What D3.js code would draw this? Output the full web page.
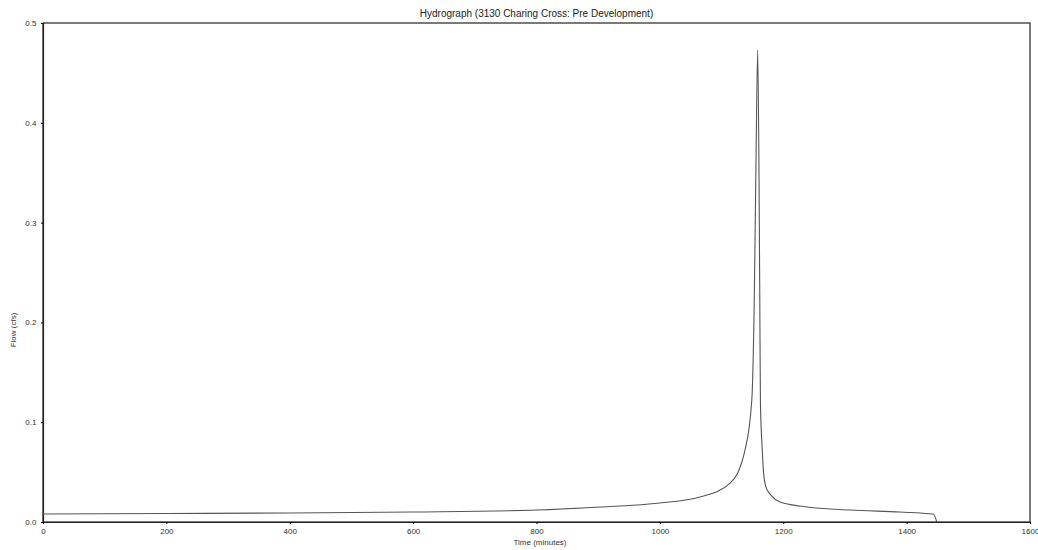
<!DOCTYPE html>
<html>
<head>
<meta charset="utf-8">
<script src="https://cdn.jsdelivr.net/npm/d3@7"></script>
<style>
  html, body { margin: 0; padding: 0; background: #fff; }
  svg { display: block; font-family: "Liberation Sans", Arial, sans-serif; }
</style>
</head>
<body>
<svg id="chart" width="1038" height="550"></svg>
<script>
// Data
const timeMinutes = [0, 200, 400, 600, 800, 903, 1000, 1065, 1114, 1138, 1149, 1153, 1156, 1158.6, 1161, 1162, 1163, 1166, 1168, 1172, 1180, 1195, 1227, 1308, 1389, 1443, 1449];
const flowCfs     = [0.008, 0.0085, 0.009, 0.010, 0.012, 0.015, 0.019, 0.025, 0.039, 0.072, 0.122, 0.222, 0.37, 0.473, 0.32, 0.22, 0.12, 0.072, 0.05, 0.035, 0.027, 0.020, 0.016, 0.012, 0.010, 0.008, 0.0];
const xTicks = [0, 200, 400, 600, 800, 1000, 1200, 1400, 1600];
const yTicks = [0.0, 0.1, 0.2, 0.3, 0.4, 0.5];
const titleText = "Hydrograph (3130 Charing Cross: Pre Development)";
const xLabel = "Time (minutes)";
const yLabel = "Flow (cfs)";

const svg = d3.select("#chart");
const m = { left: 43, right: 1030, top: 23, bottom: 522 };

const x = d3.scaleLinear().domain([0, 1600]).range([m.left, m.right]);
const y = d3.scaleLinear().domain([0, 0.5]).range([m.bottom, m.top]);

// Plot frame
svg.append("rect")
  .attr("x", m.left).attr("y", m.top)
  .attr("width", m.right - m.left).attr("height", m.bottom - m.top)
  .attr("fill", "#fff").attr("stroke", "#222").attr("stroke-width", 1.2);

// Axes
const xAxis = d3.axisBottom(x).tickValues(xTicks).tickSize(2).tickFormat(d3.format("d"));
const gx = svg.append("g").attr("transform", `translate(0,${m.bottom})`).call(xAxis);
gx.select(".domain").attr("stroke", "#222").attr("stroke-width", 1.2);
gx.selectAll("text").attr("font-size", 8).attr("fill", "#333").attr("dy", "0.9em");

const yAxis = d3.axisLeft(y).tickValues(yTicks).tickSize(2).tickFormat(d3.format(".1f"));
const gy = svg.append("g").attr("transform", `translate(${m.left},0)`).call(yAxis);
gy.select(".domain").attr("stroke", "#222").attr("stroke-width", 1.2);
gy.selectAll("text").attr("font-size", 8).attr("fill", "#333").attr("dx", "-0.2em");

// Line
const line = d3.line().x((d, i) => x(timeMinutes[i])).y(d => y(d)).curve(d3.curveMonotoneX);
svg.append("path")
  .datum(flowCfs)
  .attr("d", line)
  .attr("fill", "none")
  .attr("stroke", "#555")
  .attr("stroke-width", 1.1);

// Title and labels
svg.append("text")
  .attr("x", (m.left + m.right) / 2).attr("y", 17)
  .attr("text-anchor", "middle").attr("font-size", 10).attr("fill", "#222")
  .text(titleText);

svg.append("text")
  .attr("x", 540).attr("y", 545)
  .attr("text-anchor", "middle").attr("font-size", 8).attr("fill", "#333")
  .text(xLabel);

svg.append("text")
  .attr("transform", "translate(16,330) rotate(-90)")
  .attr("text-anchor", "middle").attr("font-size", 8).attr("fill", "#333")
  .text(yLabel);
</script>
</body>
</html>
